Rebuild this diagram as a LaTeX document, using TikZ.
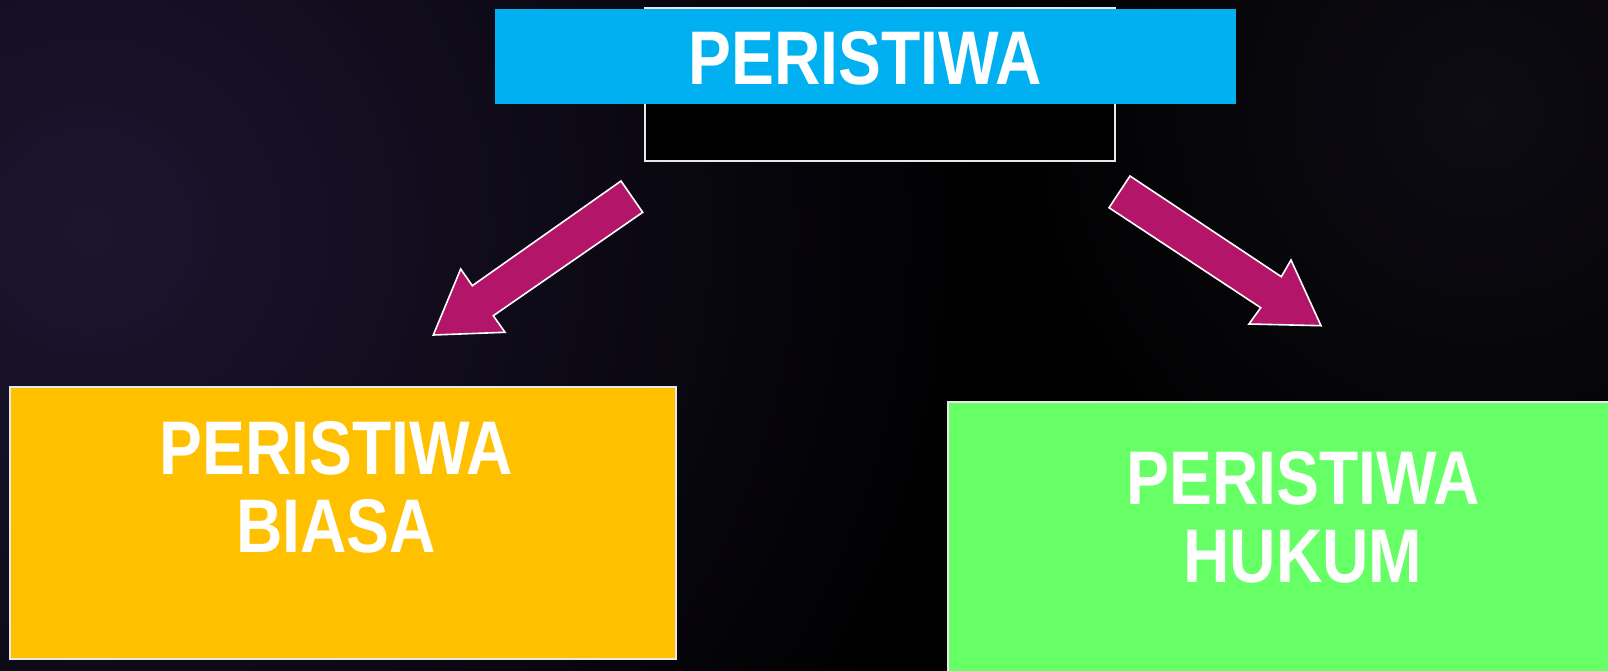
\documentclass[tikz,border=0pt]{standalone}
\usepackage{fontspec}
\setmainfont{Liberation Sans}
\newfontfamily\labelfont[FakeStretch=0.845]{Liberation Sans}
\definecolor{cyanbox}{HTML}{00B0F0}
\definecolor{yellowbox}{HTML}{FFC000}
\definecolor{greenbox}{HTML}{66FF66}
\definecolor{arrowfill}{HTML}{B31668}
\definecolor{glow}{HTML}{1C1530}
\definecolor{glowtwo}{HTML}{0E0C14}
\definecolor{edge}{HTML}{E8E8E8}
\tikzset{
  boxshape/.style={rectangle, inner sep=0pt, outer sep=0pt},
  labeltext/.style={text=white, inner sep=0pt, align=center,
    font=\labelfont\bfseries\fontsize{76}{78}\selectfont},
  blockarrow/.style={fill=arrowfill, draw=white, line width=1.6pt, line join=miter}
}
\begin{document}
\begin{tikzpicture}[x=1pt,y=-1pt]
\useasboundingbox (0,0) rectangle (1608,671);
\fill[black] (0,0) rectangle (1608,671);
\begin{scope}
  \clip (0,0) rectangle (1608,671);
  \shade[inner color=glowtwo, outer color=black] (1480,110) circle (500pt);
  \shade[inner color=glow, outer color=black, opacity=1] (90,230) circle (900pt);
\end{scope}

% top
\node[boxshape, draw=edge, fill=black, line width=1.8pt, minimum width=470, minimum height=153] (frame) at (880,84.5) {};
\node[boxshape, fill=cyanbox, minimum width=741, minimum height=95] (top) at (865.5,56.5) {};
\node[labeltext, anchor=base] (toplabel) at (865.5,84.5) {PERISTIWA};

% bottom boxes
\node[boxshape, draw=edge, fill=yellowbox, line width=1.5pt, minimum width=666, minimum height=272] (biasa) at (343,523) {};
\node[labeltext, anchor=north] (biasalabel) at (336,421) {PERISTIWA\\BIASA};

\node[boxshape, draw=edge, fill=greenbox, line width=1.5pt, minimum width=672, minimum height=288] (hukum) at (1284,546) {};
\node[labeltext, anchor=north] (hukumlabel) at (1303,451) {PERISTIWA\\HUKUM};

% block arrows
\draw[blockarrow] (621,181) -- (642.7,212.3) -- (493.3,315.7) -- (505,332.3) -- (433.3,335) -- (460.7,269) -- (472.3,285.7) -- cycle;
\draw[blockarrow] (1130,176) -- (1281.3,276.7) -- (1291,260) -- (1321,325.7) -- (1249,324) -- (1260.7,307.7) -- (1109,207.7) -- cycle;
\end{tikzpicture}
\end{document}
